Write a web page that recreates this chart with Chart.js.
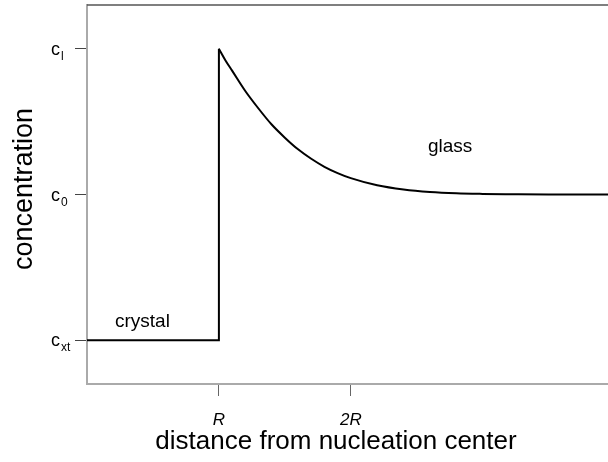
<!DOCTYPE html>
<html>
<head>
<meta charset="utf-8">
<script src="https://cdn.jsdelivr.net/npm/chart.js@4.4.0/dist/chart.umd.min.js"></script>
<style>
  html, body { margin: 0; padding: 0; background: #fff; }
  #wrap { width: 608px; height: 462px; }
</style>
</head>
<body>
<div id="wrap"><canvas id="profile"></canvas></div>
<script>
// step through the crystal up to the interface at R
var stepX = [0, 1, 1];
var stepY = [0, 0, 2];

// concentration in the glass (x in units of R, y: 0 = c_xt, 1 = c_0, 2 = c_l)
var glassX = [1.0, 1.05, 1.1, 1.2, 1.3, 1.4, 1.5, 1.6, 1.7, 1.8, 1.9, 2.0, 2.2, 2.4, 2.6, 2.8, 3.0, 3.2, 3.5, 3.95];
var glassY = [2.0, 1.92, 1.85, 1.71, 1.59, 1.48, 1.39, 1.31, 1.245, 1.19, 1.147, 1.112, 1.063, 1.034, 1.017, 1.008, 1.004, 1.002, 1.0, 1.0];

var yTickValues = [0, 1, 2];
var yTickMain = ['c', 'c', 'c'];
var yTickSub = ['xt', '0', 'l'];

var xTickValues = [1, 2];
var xTickLabels = ['R', '2R'];

var FONT = 'Liberation Sans, Arial, sans-serif';

function toPoints(xs, ys) {
  return xs.map(function (x, i) {
    return { x: x, y: ys[i] };
  });
}

var textPlugin = {
  id: 'profileText',
  afterDraw: function (chart) {
    var ctx = chart.ctx;
    var area = chart.chartArea;
    var yScale = chart.scales.y;

    ctx.save();
    // top frame line
    ctx.strokeStyle = '#555';
    ctx.lineWidth = 1.5;
    ctx.beginPath();
    ctx.moveTo(area.left, area.top);
    ctx.lineTo(area.right, area.top);
    ctx.stroke();

    // y tick labels with subscripts
    ctx.fillStyle = '#000';
    ctx.textAlign = 'left';
    ctx.textBaseline = 'alphabetic';
    yTickValues.forEach(function (v, i) {
      var py = yScale.getPixelForValue(v);
      ctx.font = '18px ' + FONT;
      ctx.fillText(yTickMain[i], 51, py + 6);
      ctx.font = '12px ' + FONT;
      ctx.fillText(yTickSub[i], 61, py + 11);
    });

    // region labels
    ctx.font = '19px ' + FONT;
    ctx.fillText('crystal', 115, 327);
    ctx.fillText('glass', 428, 152);

    // axis titles
    ctx.font = '26px ' + FONT;
    ctx.textAlign = 'center';
    ctx.fillText('distance from nucleation center', 336, 449);

    ctx.translate(32, 189);
    ctx.rotate(-Math.PI / 2);
    ctx.font = '27px ' + FONT;
    ctx.fillText('concentration', 0, 0);
    ctx.restore();
  }
};

new Chart(document.getElementById('profile'), {
  type: 'line',
  data: {
    datasets: [{
      label: 'crystal',
      data: toPoints(stepX, stepY),
      borderColor: '#000',
      borderWidth: 2,
      pointRadius: 0,
      tension: 0,
      fill: false,
    }, {
      label: 'glass',
      data: toPoints(glassX, glassY),
      borderColor: '#000',
      borderWidth: 2,
      pointRadius: 0,
      cubicInterpolationMode: 'monotone',
      fill: false,
    }],
  },
  options: {
    animation: false,
    responsive: true,
    maintainAspectRatio: false,
    layout: { padding: { top: 5, right: 0, left: 0, bottom: 0 } },
    plugins: {
      legend: { display: false },
      tooltip: { enabled: false },
    },
    scales: {
      x: {
        type: 'linear',
        min: 0,
        max: 3.95,
        afterBuildTicks: function (scale) {
          scale.ticks = xTickValues.map(function (v) { return { value: v }; });
        },
        afterFit: function (scale) { scale.height = 78; },
        border: { display: true, color: '#aaa', width: 2 },
        grid: { drawOnChartArea: false, tickLength: 12, color: '#666', lineWidth: 1 },
        ticks: {
          padding: 14,
          color: '#000',
          font: { family: FONT, size: 17, style: 'italic' },
          maxRotation: 0,
          callback: function (value) {
            var i = xTickValues.indexOf(value);
            return i >= 0 ? xTickLabels[i] : '';
          },
        },
      },
      y: {
        type: 'linear',
        min: -0.3,
        max: 2.3,
        afterBuildTicks: function (scale) {
          scale.ticks = yTickValues.map(function (v) { return { value: v }; });
        },
        afterFit: function (scale) { scale.width = 87; },
        border: { display: true, color: '#aaa', width: 2 },
        grid: { drawOnChartArea: false, tickLength: 12, color: '#444', lineWidth: 1 },
        ticks: { display: false },
      },
    },
  },
  plugins: [textPlugin],
});
</script>
</body>
</html>
